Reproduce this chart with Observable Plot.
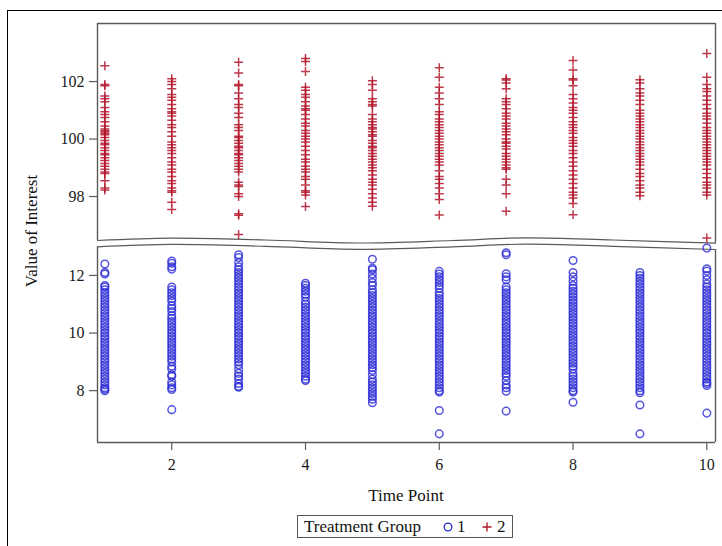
<!DOCTYPE html>
<html><head><meta charset="utf-8">
<script src="https://cdn.jsdelivr.net/npm/d3@7"></script>
<script src="https://cdn.jsdelivr.net/npm/@observablehq/plot@0.6"></script>
<style>
html,body{margin:0;padding:0;background:#fff;}
#root{position:relative;width:722px;height:546px;overflow:hidden;font-family:"Liberation Serif","Times New Roman",serif;color:#111;background:#fff;}
#frame{position:absolute;left:7px;top:10px;width:800px;height:600px;border:1px solid #000;box-sizing:border-box;}
.abs{position:absolute;}
#ylab{position:absolute;left:31px;top:231px;transform:translate(-50%,-50%) rotate(-90deg);font-size:17px;white-space:nowrap;line-height:17px;}
#xlab{position:absolute;left:406px;top:487px;transform:translateX(-50%);font-size:17px;white-space:nowrap;line-height:17px;}
#legend{position:absolute;left:297px;top:515px;width:216px;height:23px;border:1px solid #555;box-sizing:border-box;font-size:17px;line-height:21px;white-space:nowrap;}
#legend span{position:absolute;top:0;}
#legend svg{position:absolute;top:5px;}
</style></head><body>
<div id="root"><div id="frame"></div>
<div id="ylab">Value of Interest</div>
<div id="xlab">Time Point</div>
<div id="legend"></div>
</div>
<script>
// ---- data ----
const timePoints = [1, 2, 3, 4, 5, 6, 7, 8, 9, 10];
const groupLabels = ["1", "2"];
const xTicks = [2, 4, 6, 8, 10];
const yTicksTop = [98, 100, 102];
const yTicksBottom = [8, 10, 12];

// Treatment group 1 (blue circles), one list per time point
const group1Values = [
  [12.4,12.1,12.05,11.65,11.6,11.5,11.4,11.3,11.2,11.1,11.0,10.9,10.8,10.7,10.6,10.5,10.4,10.3,10.2,10.1,10.0,9.9,9.8,9.7,9.6,9.5,9.4,9.3,9.2,9.1,9.0,8.9,8.8,8.7,8.6,8.5,8.4,8.3,8.2,8.1,8.05,8.0],
  [12.5,12.42,12.3,12.22,11.6,11.5,11.4,11.3,11.2,11.1,10.95,10.85,10.75,10.6,10.5,10.4,10.3,10.2,10.1,10.0,9.9,9.8,9.7,9.6,9.5,9.4,9.3,9.2,9.1,9.0,8.85,8.75,8.55,8.5,8.3,8.2,8.1,8.04,7.34],
  [12.72,12.62,12.45,12.3,12.2,12.1,12.0,11.9,11.8,11.7,11.6,11.5,11.4,11.3,11.2,11.1,11.0,10.9,10.8,10.7,10.6,10.5,10.4,10.3,10.2,10.1,10.0,9.9,9.8,9.7,9.6,9.5,9.4,9.3,9.2,9.1,9.0,8.9,8.75,8.6,8.5,8.4,8.25,8.15,8.12],
  [11.73,11.65,11.55,11.45,11.35,11.25,11.1,11.0,10.9,10.8,10.7,10.6,10.5,10.4,10.3,10.2,10.1,10.0,9.9,9.8,9.7,9.6,9.5,9.4,9.3,9.2,9.1,9.0,8.9,8.8,8.7,8.6,8.5,8.4,8.35],
  [12.56,12.25,12.2,12.05,11.9,11.75,11.65,11.5,11.4,11.3,11.2,11.1,11.0,10.9,10.8,10.7,10.6,10.5,10.4,10.3,10.2,10.1,10.0,9.9,9.8,9.7,9.6,9.5,9.4,9.3,9.2,9.1,9.0,8.9,8.8,8.7,8.55,8.4,8.3,8.2,8.1,8.0,7.9,7.8,7.7,7.58],
  [12.14,12.05,11.95,11.85,11.75,11.65,11.55,11.4,11.3,11.2,11.1,11.0,10.9,10.8,10.7,10.6,10.5,10.4,10.3,10.2,10.1,10.0,9.9,9.8,9.7,9.6,9.5,9.4,9.3,9.2,9.1,9.0,8.9,8.8,8.7,8.6,8.5,8.4,8.3,8.2,8.1,8.0,7.95,7.31,6.5],
  [12.79,12.72,12.06,11.95,11.85,11.6,11.5,11.4,11.3,11.2,11.1,11.0,10.9,10.8,10.7,10.6,10.5,10.4,10.3,10.2,10.1,10.0,9.9,9.8,9.7,9.6,9.5,9.4,9.3,9.2,9.1,9.0,8.9,8.8,8.7,8.6,8.5,8.35,8.2,8.1,7.98,7.29],
  [12.52,12.1,11.95,11.8,11.65,11.55,11.45,11.35,11.25,11.15,11.05,10.95,10.85,10.75,10.65,10.55,10.45,10.35,10.25,10.15,10.05,9.95,9.85,9.75,9.65,9.55,9.45,9.35,9.25,9.15,9.05,8.95,8.85,8.75,8.6,8.5,8.4,8.3,8.2,8.1,8.0,7.95,7.6],
  [12.1,12.0,11.9,11.8,11.7,11.6,11.5,11.4,11.3,11.2,11.1,11.0,10.9,10.8,10.7,10.6,10.5,10.4,10.3,10.2,10.1,10.0,9.9,9.8,9.7,9.6,9.5,9.4,9.3,9.2,9.1,9.0,8.9,8.8,8.7,8.6,8.5,8.4,8.3,8.2,8.1,8.0,7.93,7.5,6.5],
  [12.95,12.23,12.15,12.0,11.85,11.7,11.6,11.5,11.4,11.3,11.2,11.1,11.0,10.9,10.8,10.7,10.6,10.5,10.4,10.3,10.2,10.1,10.0,9.9,9.8,9.7,9.6,9.5,9.4,9.3,9.2,9.1,9.0,8.9,8.8,8.7,8.6,8.5,8.4,8.3,8.25,8.18,7.22]
];

// Treatment group 2 (red plus signs), one list per time point
const group2Values = [
  [102.55,101.9,101.85,101.5,101.4,101.3,101.1,100.95,100.85,100.75,100.6,100.45,100.35,100.3,100.25,100.2,100.15,100.05,99.95,99.85,99.8,99.7,99.6,99.5,99.45,99.35,99.25,99.15,99.05,98.95,98.85,98.8,98.55,98.3,98.23],
  [102.1,102.0,101.9,101.75,101.55,101.45,101.35,101.2,101.05,100.95,100.9,100.8,100.65,100.5,100.4,100.25,100.1,99.9,99.8,99.7,99.6,99.5,99.35,99.2,99.1,98.95,98.85,98.7,98.55,98.45,98.3,98.2,98.15,97.8,97.55],
  [102.67,102.3,101.9,101.85,101.6,101.4,101.2,101.1,100.9,100.75,100.5,100.4,100.3,100.1,100.05,99.95,99.85,99.75,99.7,99.6,99.5,99.45,99.35,99.25,99.15,99.05,98.95,98.85,98.5,98.4,98.35,98.1,98.0,97.4,97.35,96.68],
  [102.8,102.7,102.35,101.8,101.7,101.55,101.45,101.3,101.15,101.05,101.0,100.85,100.7,100.55,100.45,100.3,100.2,100.1,100.0,99.9,99.75,99.6,99.45,99.3,99.2,99.05,98.95,98.85,98.7,98.6,98.4,98.2,98.15,98.05,97.65],
  [102.03,101.9,101.7,101.4,101.3,101.2,101.15,100.85,100.7,100.6,100.5,100.4,100.35,100.25,100.15,100.1,99.95,99.85,99.75,99.7,99.6,99.5,99.4,99.3,99.2,99.1,99.0,98.9,98.75,98.6,98.5,98.4,98.25,98.1,97.95,97.8,97.66],
  [102.48,102.15,101.8,101.6,101.4,101.2,100.95,100.85,100.7,100.6,100.5,100.4,100.3,100.2,100.1,100.0,99.9,99.8,99.7,99.6,99.5,99.4,99.3,99.2,99.1,98.9,98.7,98.6,98.45,98.3,98.1,97.9,97.36],
  [102.1,102.05,101.95,101.75,101.4,101.3,101.2,101.05,100.9,100.8,100.7,100.55,100.45,100.35,100.25,100.15,100.0,99.9,99.85,99.75,99.65,99.5,99.4,99.3,99.2,99.1,99.0,98.95,98.6,98.4,98.1,97.49],
  [102.73,102.4,102.1,102.05,101.85,101.55,101.4,101.25,101.1,101.0,100.9,100.75,100.6,100.5,100.4,100.3,100.2,100.05,99.95,99.85,99.75,99.6,99.5,99.35,99.2,99.05,98.9,98.75,98.6,98.45,98.3,98.15,98.05,97.95,97.76,97.37],
  [102.06,101.95,101.75,101.6,101.5,101.35,101.2,101.0,100.9,100.8,100.7,100.6,100.5,100.4,100.3,100.2,100.1,100.0,99.9,99.8,99.7,99.6,99.5,99.4,99.3,99.2,99.1,98.95,98.8,98.7,98.55,98.4,98.3,98.15,98.03],
  [102.98,102.15,101.9,101.75,101.65,101.5,101.35,101.2,101.05,100.9,100.8,100.7,100.55,100.4,100.3,100.2,100.1,100.0,99.9,99.8,99.7,99.6,99.5,99.4,99.3,99.2,99.1,98.95,98.8,98.65,98.5,98.4,98.3,98.15,98.05,96.56]
];

// Wavy axis-break decoration: x positions and pixel offsets (down = positive)
const breakX = [0.89, 2.0, 3.4, 4.8, 6.2, 7.3, 8.6, 10.13];
const breakOffsetPx = [0, -2.4, -0.5, 2.5, 0, -2.7, -0.5, 2.7];
const breakGapPx = 6.3;

// ---- styling ----
const blue = "#2b2bd6";
const red = "#b3162c";
const axisColor = "#5a5a5a";
const xDomain = [0.89, 10.13];
const topDomain = [96.47, 104.02];
const bottomDomain = [6.2, 13.04];
const fontFamily = '"Liberation Serif","Times New Roman",serif';

const g1 = timePoints.flatMap((t, i) => group1Values[i].map(v => ({t, v, group: groupLabels[0]})));
const g2 = timePoints.flatMap((t, i) => group2Values[i].map(v => ({t, v, group: groupLabels[1]})));

const root = document.getElementById("root");
const intFmt = d3.format("d");

// ---------- top panel ----------
const topH = 250, topMT = 23, topMB = 10;
const topPx = (topH - topMT - topMB) / (topDomain[1] - topDomain[0]);
const topWave = breakX.map((x, i) => ({x, y: topDomain[0] - breakOffsetPx[i] / topPx}));

const topPlot = Plot.plot({
  width: 722, height: topH,
  marginLeft: 97, marginRight: 7, marginTop: topMT, marginBottom: topMB,
  style: {fontFamily, fontSize: "16px", color: "#1a1a1a", background: "transparent", overflow: "visible"},
  x: {domain: xDomain, axis: null},
  y: {domain: topDomain},
  marks: [
    Plot.axisY({ticks: yTicksTop, tickSize: 8, tickPadding: 5, tickFormat: intFmt, label: null, fontSize: 16, stroke: axisColor, strokeWidth: 1.2}),
    Plot.ruleX([xDomain[0]], {y1: topWave[0].y, y2: topDomain[1], stroke: axisColor, strokeWidth: 1.4}),
    Plot.ruleX([xDomain[1]], {y1: topWave[topWave.length - 1].y, y2: topDomain[1], stroke: axisColor, strokeWidth: 1.4}),
    Plot.ruleY([topDomain[1]], {stroke: axisColor, strokeWidth: 1.4}),
    Plot.line(topWave, {x: "x", y: "y", curve: "catmull-rom", stroke: axisColor, strokeWidth: 1.2}),
    Plot.dot(g2, {x: "t", y: "v", symbol: "plus", r: 3.0, stroke: red, strokeWidth: 1.5, strokeOpacity: 0.85, fill: "none"})
  ]
});
topPlot.classList.add("abs");
topPlot.style.left = "0px";
topPlot.style.top = "0px";
root.appendChild(topPlot);

// ---------- bottom panel ----------
const botTop = 238, botH = 266, botMT = 7, botMB = 62;
const botPx = (botH - botMT - botMB) / (bottomDomain[1] - bottomDomain[0]);
const botWave = breakX.map((x, i) => ({x, y: bottomDomain[1] - (breakOffsetPx[i] + breakGapPx - (botTop + botMT - 240)) / botPx}));

const botPlot = Plot.plot({
  width: 722, height: botH,
  marginLeft: 97, marginRight: 7, marginTop: botMT, marginBottom: botMB,
  style: {fontFamily, fontSize: "16px", color: "#1a1a1a", background: "transparent", overflow: "visible"},
  x: {domain: xDomain},
  y: {domain: bottomDomain},
  marks: [
    Plot.axisX({ticks: xTicks, tickSize: 8, tickPadding: 8, tickFormat: intFmt, label: null, fontSize: 16, stroke: axisColor, strokeWidth: 1.2}),
    Plot.axisY({ticks: yTicksBottom, tickSize: 8, tickPadding: 5, tickFormat: intFmt, label: null, fontSize: 16, stroke: axisColor, strokeWidth: 1.2}),
    Plot.ruleX([xDomain[0]], {y1: bottomDomain[0], y2: botWave[0].y, stroke: axisColor, strokeWidth: 1.4}),
    Plot.ruleX([xDomain[1]], {y1: bottomDomain[0], y2: botWave[botWave.length - 1].y, stroke: axisColor, strokeWidth: 1.4}),
    Plot.ruleY([bottomDomain[0]], {stroke: axisColor, strokeWidth: 1.4}),
    Plot.line(botWave, {x: "x", y: "y", curve: "catmull-rom", stroke: axisColor, strokeWidth: 1.2}),
    Plot.dot(g1, {x: "t", y: "v", symbol: "circle", r: 3.8, stroke: blue, strokeWidth: 1.5, strokeOpacity: 0.8, fill: "none"})
  ]
});
botPlot.classList.add("abs");
botPlot.style.left = "0px";
botPlot.style.top = botTop + "px";
root.appendChild(botPlot);

// ---------- legend ----------
const legend = document.getElementById("legend");
legend.innerHTML =
  '<span style="left:6px">Treatment Group</span>' +
  '<svg width="12" height="12" style="left:144px"><circle cx="6" cy="6" r="3.8" fill="none" stroke="' + blue + '" stroke-width="1.3"/></svg>' +
  '<span style="left:159px">' + groupLabels[0] + '</span>' +
  '<svg width="12" height="12" style="left:183px"><path d="M1.5,6H10.5M6,1.5V10.5" stroke="' + red + '" stroke-width="1.4"/></svg>' +
  '<span style="left:199px">' + groupLabels[1] + '</span>';
</script>
</body></html>
